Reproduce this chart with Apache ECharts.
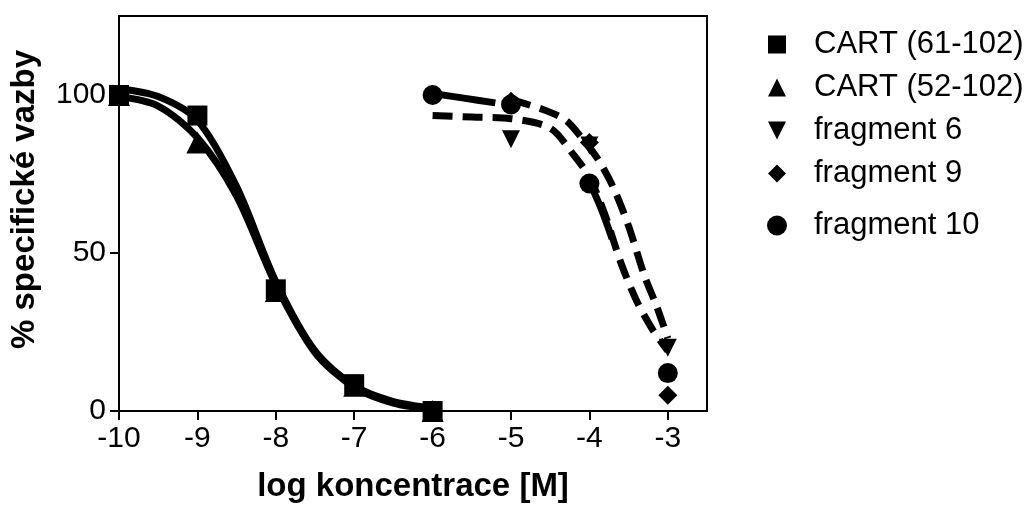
<!DOCTYPE html>
<html>
<head>
<meta charset="utf-8">
<script src="https://cdn.jsdelivr.net/npm/echarts@6/dist/echarts.min.js"></script>
<style>
html,body{margin:0;padding:0;background:#fff;}
#chart{width:1033px;height:508px;}
</style>
</head>
<body>
<div id="chart"></div>
<script>
// ---- data ----
const xTicks = [-10, -9, -8, -7, -6, -5, -4, -3];
const yTicks = [0, 50, 100];
const xName = 'log koncentrace [M]';
const yName = '% specifické vazby';
const seriesNames = ['CART (61-102)', 'CART (52-102)', 'fragment 6', 'fragment 9', 'fragment 10'];

// measured points [log M, % binding]
const cart61 = [[-10, 100], [-9, 93.5], [-8, 38.5], [-7, 8.5], [-6, 0]];
const cart52 = [[-10, 100], [-9, 85], [-8, 38], [-7, 8], [-6, 0]];
const frag6  = [[-5, 86], [-4, 84], [-3, 20]];
const frag9  = [[-6, 100], [-5, 98], [-4, 85], [-3, 5]];
const frag10 = [[-6, 100], [-5, 97], [-4, 72], [-3, 12]];

// fitted curves
const fit61 = [[-10, 102], [-9.5, 99.5], [-9, 92], [-8.5, 71], [-8, 41], [-7.5, 19], [-7, 8], [-6.5, 3], [-6, 1]];
const fit52 = [[-10, 99.5], [-9.5, 96.5], [-9, 86.5], [-8.5, 68], [-8, 40], [-7.5, 18.5], [-7, 7.5], [-6.5, 2.5], [-6, 0.5]];
const fit6  = [[-6, 93.5], [-5.5, 93], [-5, 92.5], [-4.5, 89.5], [-4.2, 81], [-4, 74], [-3.8, 62], [-3.6, 47], [-3.4, 35], [-3.2, 26], [-3, 19]];
const fit9  = [[-5, 98.5], [-4.6, 95.5], [-4.3, 92], [-4.1, 86.5], [-3.9, 80], [-3.7, 71], [-3.5, 58.5], [-3.3, 43], [-3.14, 33], [-3, 23]];
const fit10 = [[-6, 100.5], [-5.6, 99], [-5.2, 97.5], [-5.1, null], [-4, 72.5], [-3.85, 64], [-3.71, 54.5]];

const FONT = "'Liberation Sans', Arial, sans-serif";
const chart = echarts.init(document.getElementById('chart'), null, {renderer: 'canvas'});

function curve(name, data, dashed) {
  return {
    name: name, type: 'line', data: data, smooth: 0.3, symbol: 'none', clip: false,
    connectNulls: false, silent: true, z: 2,
    lineStyle: {color: '#000', width: 7, type: dashed ? [20, 10] : 'solid', cap: 'butt', join: 'round'}
  };
}
function marks(name, data, symbol, size, rotate) {
  return {
    name: name, type: 'scatter', data: data, symbol: symbol, symbolSize: size,
    symbolRotate: rotate || 0, clip: false, z: 5,
    itemStyle: {color: '#000', opacity: 1}
  };
}
const downTri = 'path://M0,0 L20,0 L10,20 Z';

chart.setOption({
  animation: false,
  backgroundColor: '#fff',
  textStyle: {fontFamily: FONT, color: '#000'},
  grid: {left: 118, right: 326, top: 16, bottom: 96, show: true, borderColor: '#000', borderWidth: 2, backgroundColor: 'transparent'},
  legend: [{
    orient: 'vertical', left: 768, top: 29, padding: 0, itemWidth: 18, itemHeight: 18, itemGap: 12,
    selectedMode: false,
    textStyle: {fontFamily: FONT, fontSize: 31, color: '#000', lineHeight: 31, padding: [0, 0, 0, 23]},
    data: [
      {name: seriesNames[0], icon: 'rect'},
      {name: seriesNames[1], icon: 'triangle'},
      {name: seriesNames[2], icon: downTri},
      {name: seriesNames[3], icon: 'diamond'}
    ]
  }, {
    orient: 'vertical', left: 767, top: 210, padding: 0, itemWidth: 20, itemHeight: 20,
    selectedMode: false,
    textStyle: {fontFamily: FONT, fontSize: 31, color: '#000', lineHeight: 31, padding: [0, 0, 0, 22]},
    data: [{name: seriesNames[4], icon: 'circle'}]
  }],
  xAxis: {
    type: 'value', min: -10, max: -2.5, interval: 1,
    name: xName, nameLocation: 'middle', nameGap: 59,
    nameTextStyle: {fontFamily: FONT, fontSize: 33, fontWeight: 'bold', color: '#000'},
    axisLine: {show: true, onZero: false, lineStyle: {color: '#000', width: 2}},
    axisTick: {show: true, length: 9, inside: false, customValues: xTicks, lineStyle: {color: '#000', width: 2}},
    axisLabel: {fontFamily: FONT, fontSize: 30, color: '#000', margin: 13, customValues: xTicks},
    splitLine: {show: false}
  },
  yAxis: {
    type: 'value', min: 0, max: 125, interval: 50,
    name: yName, nameLocation: 'middle', nameGap: 78, nameRotate: 90,
    nameTextStyle: {fontFamily: FONT, fontSize: 33, fontWeight: 'bold', color: '#000', padding: [0, 0, 0, 28]},
    axisLine: {show: true, lineStyle: {color: '#000', width: 2}},
    axisTick: {show: true, length: 9, customValues: yTicks, lineStyle: {color: '#000', width: 2}},
    axisLabel: {fontFamily: FONT, fontSize: 30, color: '#000', margin: 13, customValues: yTicks},
    splitLine: {show: false}
  },
  series: [
    curve('fit61', fit61, false),
    curve('fit52', fit52, false),
    curve('fit6', fit6, true),
    curve('fit9', fit9, true),
    curve('fit10', fit10, false),
    marks(seriesNames[0], cart61, 'rect', 20),
    marks(seriesNames[1], cart52, 'triangle', 22),
    marks(seriesNames[2], frag6, downTri, 18),
    marks(seriesNames[3], frag9, 'diamond', 19),
    marks(seriesNames[4], frag10, 'circle', 20)
  ]
});
</script>
</body>
</html>
